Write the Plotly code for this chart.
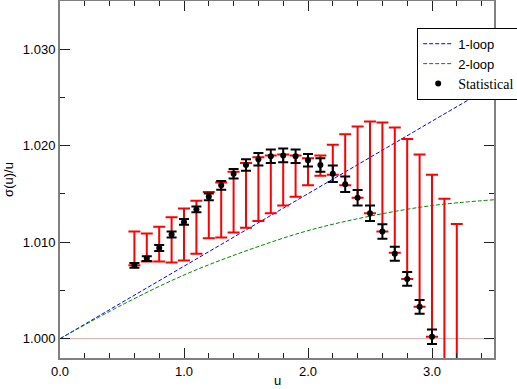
import plotly.graph_objects as go

# lattice step scaling data
u_stat = [0.6, 0.7, 0.8, 0.9, 1.0, 1.1, 1.2, 1.3, 1.4, 1.5, 1.6, 1.7, 1.8,
          1.9, 2.0, 2.1, 2.2, 2.3, 2.4, 2.5, 2.6, 2.7, 2.8, 2.9, 3.0]
sigma_stat = [1.0076, 1.0083, 1.0094, 1.0108, 1.0121, 1.0134, 1.0147, 1.0159,
              1.0171, 1.0180, 1.0186, 1.0189, 1.0190, 1.0189, 1.0185, 1.0180,
              1.0171, 1.0160, 1.0146, 1.0130, 1.0111, 1.0088, 1.0062, 1.0033,
              1.0002]
err_stat = [0.00025, 0.00025, 0.0003, 0.0003, 0.0003, 0.0003, 0.00035, 0.00045,
            0.0005, 0.0006, 0.00065, 0.0007, 0.0007, 0.0007, 0.00065, 0.0007,
            0.00085, 0.0008, 0.0008, 0.0008, 0.00075, 0.00072, 0.00072, 0.00072,
            0.00075]

# red (systematic) bands: lower and upper ends
u_sys = [0.6, 0.7, 0.8, 0.9, 1.0, 1.1, 1.2, 1.3, 1.4, 1.5, 1.6, 1.7, 1.8, 1.9,
         2.0, 2.1, 2.2, 2.3, 2.4, 2.5, 2.6, 2.7, 2.8, 2.9, 3.0, 3.1, 3.2]
sys_hi = [1.0111, 1.0109, 1.0116, 1.0126, 1.0135, 1.0143, 1.0152, 1.0162,
          1.0173, 1.0182, 1.0188, 1.0190, 1.0191, 1.0190, 1.0187, 1.0190,
          1.0201, 1.0212, 1.0220, 1.0225, 1.0224, 1.0219, 1.0207, 1.0191,
          1.0170, 1.0145, 1.0119]
sys_lo = [1.0076, 1.0080, 1.0080, 1.0079, 1.0081, 1.0088, 1.0104, 1.0105,
          1.0110, 1.0115, 1.0122, 1.0130, 1.0138, 1.0147, 1.0159, 1.0169,
          1.0170, 1.0159, 1.0146, 1.0130, 1.0111, 1.0089, 1.0062, 1.0033,
          1.0002, 0.9965, 0.9925]

# perturbative curves
u_1loop = [0.0, 3.5]
sigma_1loop = [1.0, 1.0263]
u_2loop = [0.0, 0.5, 1.0, 1.5, 2.0, 2.5, 3.0, 3.5]
sigma_2loop = [1.0, 1.0035, 1.0066, 1.0091, 1.0112, 1.0127, 1.0138, 1.0144]

fig = go.Figure()

fig.add_hline(y=1.0, line={"color": "#d2a8a8", "width": 1}, layer="below")

fig.add_trace(go.Scatter(
    x=u_1loop, y=sigma_1loop, mode="lines", name="1-loop",
    line={"color": "#0000ff", "width": 1, "dash": "4px,2px"},
))
fig.add_trace(go.Scatter(
    x=u_2loop, y=sigma_2loop, mode="lines", name="2-loop",
    line={"color": "#008800", "width": 1, "dash": "4px,2px", "shape": "spline"},
))

# red bars: invisible points at the lower end, bar going up to the upper end
fig.add_trace(go.Scatter(
    x=u_sys, y=sys_lo, mode="markers", showlegend=False, hoverinfo="skip",
    marker={"size": 1, "opacity": 0},
    error_y={"type": "data", "symmetric": False,
             "array": [h - l for h, l in zip(sys_hi, sys_lo)],
             "arrayminus": [0] * len(sys_lo),
             "color": "#ff0000", "thickness": 2, "width": 6},
))

fig.add_trace(go.Scatter(
    x=u_stat, y=sigma_stat, mode="markers",
    name='<span style="font-family:\'Liberation Serif\';font-size:14px">Statistical</span>',
    marker={"color": "black", "size": 6},
    error_y={"type": "data", "array": err_stat, "color": "black",
             "thickness": 2, "width": 5},
))

axis_common = dict(
    showline=True, linecolor="#808080", linewidth=2, mirror="ticks",
    ticks="inside", ticklen=10, tickcolor="#222222", tickwidth=1,
    showgrid=False, zeroline=False, automargin=False,
    tickfont={"family": "Liberation Sans, Arial", "size": 13, "color": "black"},
)

fig.update_xaxes(
    range=[0, 3.5], dtick=1.0, tickformat=".1f",
    minor={"dtick": 0.2, "ticks": "inside", "ticklen": 5, "tickcolor": "#222222"},
    **axis_common,
)
fig.update_yaxes(
    range=[0.998, 1.035], tick0=1.0, dtick=0.01, tickformat=".3f",
    minor={"dtick": 0.005, "ticks": "inside", "ticklen": 5, "tickcolor": "#222222"},
    title={"text": "σ(u)/u", "font": {"size": 13}, "standoff": 6},
    **axis_common,
)

# x-axis title sits tight under the tick labels
fig.add_annotation(
    text="u", xref="paper", yref="paper", x=0.5, y=0, yshift=-22,
    xanchor="center", yanchor="middle", showarrow=False, font={"size": 13},
)

fig.update_layout(
    width=517, height=389,
    margin={"l": 60, "r": 23, "t": 1, "b": 31, "autoexpand": False},
    plot_bgcolor="white", paper_bgcolor="white",
    font={"family": "Liberation Sans, Arial", "color": "black", "size": 13},
    legend={"x": 0.823, "y": 0.925, "xanchor": "left", "yanchor": "top",
            "bgcolor": "white", "bordercolor": "black", "borderwidth": 1,
            "font": {"size": 13}, "itemwidth": 30, "tracegroupgap": 0},
    showlegend=True,
)

# page body has a default 8px margin; drop it so the figure fills the window
fig.write_html("out.html", config={"displayModeBar": False},
               post_script="document.body.style.margin='0';")
